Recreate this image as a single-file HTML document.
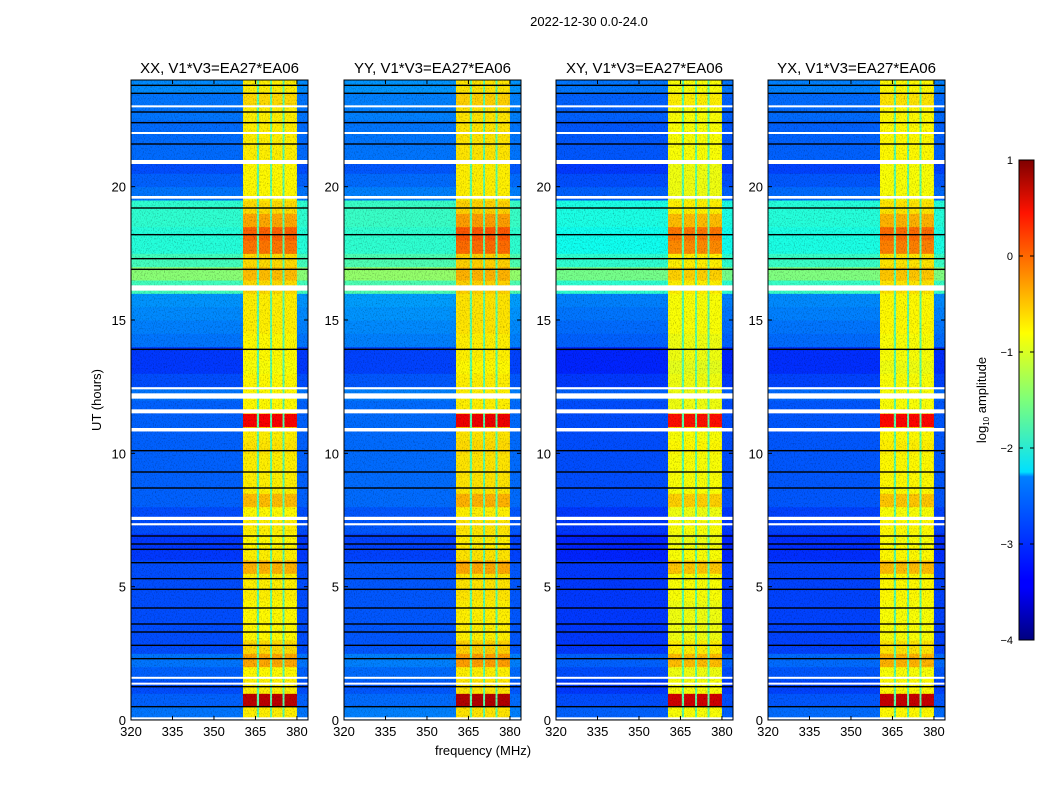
<!DOCTYPE html>
<html><head><meta charset="utf-8">
<style>
body{margin:0;background:#fff;font-family:"Liberation Sans",sans-serif;}
svg{display:block}
text{font-family:"Liberation Sans",sans-serif;fill:#000}
</style></head>
<body>
<svg id="chart" width="1050" height="800" viewBox="0 0 1050 800">
<defs>
<filter id="noise" x="0" y="0" width="100%" height="100%">
<feTurbulence type="fractalNoise" baseFrequency="0.9 0.6" numOctaves="2" seed="3"/>
<feColorMatrix type="matrix" values="0 0 0 0 0  0 0 0 0 0  0 0 0 0 0  0 0 0 2.2 -1.1"/>
</filter>
<linearGradient id="jet" x1="0" y1="1" x2="0" y2="0">
<stop offset="0" stop-color="#00007f"/><stop offset="0.11" stop-color="#0000ff"/>
<stop offset="0.125" stop-color="#0000ff"/><stop offset="0.34" stop-color="#0080ff"/>
<stop offset="0.35" stop-color="#00e0ff"/><stop offset="0.5" stop-color="#7dff7a"/>
<stop offset="0.64" stop-color="#ffff00"/><stop offset="0.89" stop-color="#ff1300"/>
<stop offset="1" stop-color="#7f0000"/>
</linearGradient>
</defs>
<text x="589" y="26" font-size="13" text-anchor="middle">2022-12-30 0.0-24.0</text>
<g id="panels"></g>
<text x="483" y="755" font-size="13" text-anchor="middle">frequency (MHz)</text>
<text x="0" y="0" font-size="13" text-anchor="middle" transform="translate(101,400) rotate(-90)">UT (hours)</text>
<g>
<rect x="1019" y="160" width="15" height="480" fill="url(#jet)" stroke="#000" stroke-width="1"/>
<g id="cbticks"></g>
<text x="0" y="0" font-size="13" text-anchor="middle" transform="translate(986,400) rotate(-90)">log<tspan font-size="8" dy="3">10</tspan><tspan dy="-3"> amplitude</tspan></text>
</g>
</svg>
<script>
// ---- data ----
const panelTitles = ["XX, V1*V3=EA27*EA06","YY, V1*V3=EA27*EA06","XY, V1*V3=EA27*EA06","YX, V1*V3=EA27*EA06"];
const panelOffset = [0, 0.05, -0.1, -0.05];
// half-hour rows 0..24 h: background (320-360, 380-384 MHz) log10 amplitude
const bgLevel = [-2.8,-2.9,-3.0,-2.9,-2.8,-3.0,-3.0,-3.0,-3.0,-3.0,-3.0,-3.0,-3.1,-3.1,-3.0,-3.0,
 -2.9,-2.9,-2.9,-2.9,-2.9,-2.9,-2.9,-2.9,-2.8,-3.0,-3.1,-3.1,-2.8,-2.75,-2.7,-2.65,
 -1.8,-1.45,-1.8,-1.95,-1.95,-1.9,-1.9,-2.8,-2.9,-3.0,-2.85,-2.85,-2.85,-2.8,-2.8,-2.7];
// band level (360-380 MHz)
const bandLevel = [-0.8,0.7,-0.8,-0.85,-0.45,-0.7,-0.85,-0.85,-0.85,-0.8,-0.8,-0.5,-0.8,-0.85,-0.8,-0.85,
 -0.55,-0.8,-0.8,-0.8,-0.75,-0.8,0.4,-0.85,-0.85,-0.85,-0.9,-0.85,-0.85,-0.8,-0.8,-0.8,
 -0.7,-0.55,-0.7,-0.2,-0.1,-0.45,-0.7,-0.85,-0.85,-0.85,-0.8,-0.8,-0.8,-0.8,-0.7,-0.8];
// frequency column edges (MHz) and column type: 0 = background, 1 = band, 2 = band gap line
const colEdges = [320,360.5,365.5,366.3,370.3,371.0,374.8,375.5,380,384];
const colType = [0,1,2,1,2,1,2,1,0];
// flagged (white) time intervals, hours
const gapStart = [0.05,1.35,1.55,7.3,7.5,10.82,11.5,12.05,12.4,16.1,19.55,20.85,22.0,23.0];
const gapEnd   = [0.1,1.4,1.62,7.38,7.62,10.95,11.65,12.25,12.48,16.3,19.65,21.0,22.05,23.05];
// dark (black) lines, hours
const darkLines = [0.5,1.25,2.3,2.8,3.3,3.6,4.2,4.9,5.3,5.9,6.4,6.6,6.9,8.7,9.3,10.1,13.9,16.9,17.3,18.2,19.2,21.6,22.4,22.8,23.5,23.8];
const xTicks = [320,335,350,365,380];
const yTicks = [0,5,10,15,20];
const cbTicks = [1,0,-1,-2,-3,-4];
// ---- layout ----
const panelX0 = [131,344,556,768], panelW = 177, topY = 80, botY = 720;
const fMin = 320, fMax = 384, tMax = 24;
const NS = "http://www.w3.org/2000/svg";
function jet(v){let t=(v+4)/5;t=Math.max(0,Math.min(1,t));
 const r=Math.max(0,Math.min(1,1.5-Math.abs(4*t-3))),g=Math.max(0,Math.min(1,1.5-Math.abs(4*t-2))),b=Math.max(0,Math.min(1,1.5-Math.abs(4*t-1)));
 return `rgb(${Math.round(r*255)},${Math.round(g*255)},${Math.round(b*255)})`;}
function mk(tag,attrs,parent){const e=document.createElementNS(NS,tag);for(const k in attrs)e.setAttribute(k,attrs[k]);parent.appendChild(e);return e;}
const panels=document.getElementById('panels');
panelTitles.forEach((title,p)=>{
 const x0=panelX0[p];
 const xs=f=>x0+(f-fMin)/(fMax-fMin)*panelW;
 const ys=t=>botY-t/tMax*(botY-topY);
 const g=mk('g',{},panels);
 
 
 const cp=mk('clipPath',{id:'cp'+p},g);mk('rect',{x:x0,y:topY,width:panelW,height:botY-topY},cp);
 const hm=mk('g',{'clip-path':`url(#cp${p})`},g);
 
 
 for(let r=0;r<bgLevel.length;r++){
  const t0=r*0.5,t1=t0+0.5;
  for(let c=0;c<colType.length;c++){
   let v=colType[c]===0?bgLevel[r]+panelOffset[p]:colType[c]===1?bandLevel[r]+panelOffset[p]:Math.min(bandLevel[r],-1.3)-0.4;
   const cell=mk('rect',{x:xs(colEdges[c]),y:ys(t1),width:xs(colEdges[c+1])-xs(colEdges[c])+0.5,height:ys(t0)-ys(t1)+0.5,fill:jet(v)},hm);
   
   
  }
 }
 const nz=mk('rect',{x:x0,y:topY,width:panelW,height:botY-topY,filter:'url(#noise)',opacity:0.35},hm);
 
 
 darkLines.forEach(t=>{const l=mk('rect',{x:x0,y:ys(t)-0.7,width:panelW,height:1.4,fill:'#000'},hm);
  
  });
 gapStart.forEach((s,i)=>{const l=mk('rect',{x:x0,y:ys(gapEnd[i]),width:panelW,height:Math.max(2,ys(s)-ys(gapEnd[i])),fill:'#fff'},hm);
  
  });
 const fr=mk('rect',{x:x0,y:topY,width:panelW,height:botY-topY,fill:'none',stroke:'#000','stroke-width':1},g);
 
 
 const tt=mk('text',{x:x0+panelW/2,y:73,'font-size':15,'text-anchor':'middle'},g);tt.textContent=title;
 
 
 xTicks.forEach(f=>{const x=xs(f);
  mk('line',{x1:x,x2:x,y1:botY,y2:botY-4,stroke:'#000'},g);mk('line',{x1:x,x2:x,y1:topY,y2:topY+4,stroke:'#000'},g);
  const l=mk('text',{x:x,y:botY+16,'font-size':13,'text-anchor':'middle'},g);l.textContent=f;
  
  });
 yTicks.forEach(t=>{const y=ys(t);
  mk('line',{x1:x0,x2:x0+4,y1:y,y2:y,stroke:'#000'},g);mk('line',{x1:x0+panelW,x2:x0+panelW-4,y1:y,y2:y,stroke:'#000'},g);
  const l=mk('text',{x:x0-5,y:y+5,'font-size':13,'text-anchor':'end'},g);l.textContent=t;
  
  });
});
const cbg=document.getElementById('cbticks');
cbTicks.forEach(v=>{const y=160+(1-v)/5*480;
 mk('line',{x1:1019,x2:1023,y1:y,y2:y,stroke:'#000'},cbg);mk('line',{x1:1030,x2:1034,y1:y,y2:y,stroke:'#000'},cbg);
 const l=mk('text',{x:1013,y:y+4,'font-size':11,'text-anchor':'end'},cbg);l.textContent=v<0?'\u2212'+(-v):v;
 
 });
</script>
</body></html>
